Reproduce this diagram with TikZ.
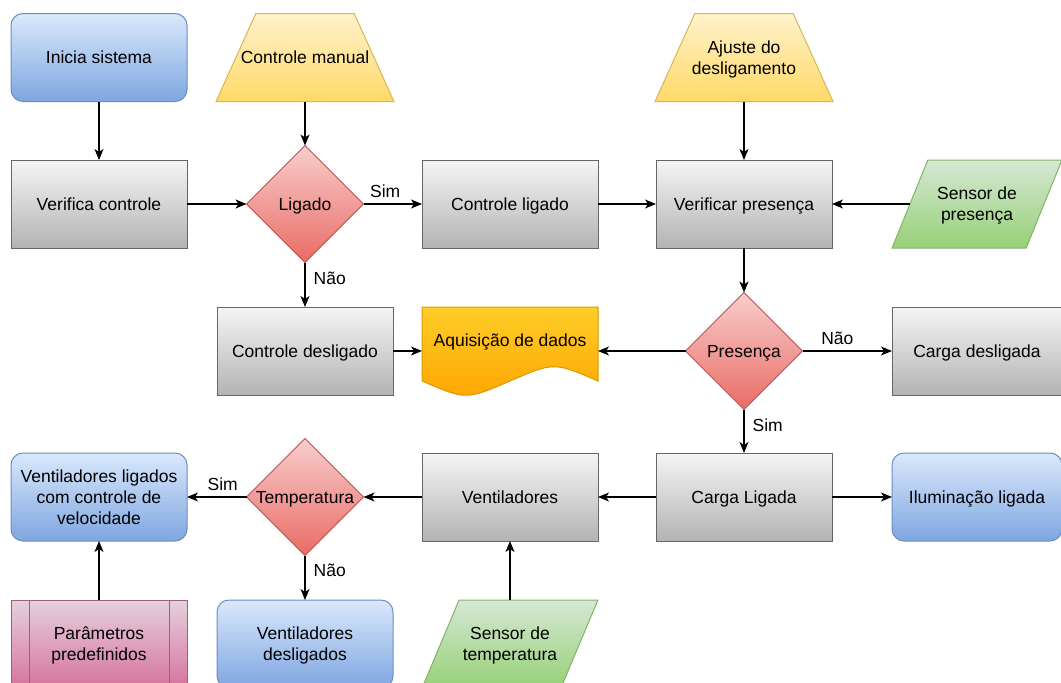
\documentclass[tikz,border=0pt]{standalone}
\usepackage{fontspec}
\setmainfont{Liberation Sans}
\usetikzlibrary{shapes.geometric,arrows.meta}
\definecolor{bluT}{HTML}{DAE8FC}\definecolor{bluB}{HTML}{7EA6E0}\definecolor{bluS}{HTML}{6C8EBF}
\definecolor{ylwT}{HTML}{FFF2CC}\definecolor{ylwB}{HTML}{FFD966}\definecolor{ylwS}{HTML}{D6B656}
\definecolor{gryT}{HTML}{F5F5F5}\definecolor{gryB}{HTML}{B3B3B3}\definecolor{gryS}{HTML}{666666}
\definecolor{redT}{HTML}{F8CECC}\definecolor{redB}{HTML}{EA6B66}\definecolor{redS}{HTML}{B85450}
\definecolor{grnT}{HTML}{D5E8D4}\definecolor{grnB}{HTML}{97D077}\definecolor{grnS}{HTML}{82B366}
\definecolor{orT}{HTML}{FFCD28}\definecolor{orB}{HTML}{FFA500}\definecolor{orS}{HTML}{D79B00}
\definecolor{pnkT}{HTML}{E6D0DE}\definecolor{pnkB}{HTML}{D5739D}\definecolor{pnkS}{HTML}{996185}
\begin{document}
\begin{tikzpicture}[x=1pt,y=-1pt,
  every node/.style={font=\fontsize{17.5}{21}\selectfont, text=black, text depth=0pt},
  base/.style={draw, line width=1pt, inner sep=0pt, outer sep=0pt,
    minimum width=176pt, minimum height=88pt, align=center},
  grbox/.style={base, draw=gryS, top color=gryT, bottom color=gryB},
  bluebox/.style={base, rounded corners=12pt, draw=bluS, top color=bluT, bottom color=bluB},
  pnkbox/.style={base, draw=pnkS, top color=pnkT, bottom color=pnkB},
  lbl/.style={label={[align=center, inner sep=0pt]center:#1}},
  trap/.style={base, inner sep=2pt, trapezium, trapezium left angle=68, trapezium right angle=68,
    trapezium stretches=true, minimum width=178pt, draw=ylwS, top color=ylwT, bottom color=ylwB},
  para/.style={base, inner sep=2pt, trapezium, trapezium left angle=70, trapezium right angle=110,
    trapezium stretches=true, draw=grnS, top color=grnT, bottom color=grnB},
  dec/.style={diamond, draw=redS, line width=1pt, top color=redT, bottom color=redB,
    minimum width=117pt, minimum height=117pt, inner sep=2pt, outer sep=0pt, aspect=1},
  arr/.style={line width=1.3pt, -{Stealth[length=11pt,width=9pt,inset=3pt]}},
  elab/.style={inner sep=0pt}
]
\useasboundingbox (0,0) rectangle (1061,683);

% row 1
\node[bluebox] (ini) at (99,57.5) {Inicia sistema};
\node[trap, lbl={Controle manual}] (cm) at (305,57.5) {};
\node[trap, lbl={Ajuste do\\desligamento}] (aj) at (744,57.5) {};

% row 2
\node[grbox] (vc) at (99,204) {Verifica controle};
\node[dec, lbl={Ligado}] (lig) at (305,204) {};
\node[grbox] (cl) at (510,204) {Controle ligado};
\node[grbox] (vp) at (744,204) {Verificar presença};
\node[para, minimum width=170pt, lbl={Sensor de\\presença}] (sp) at (977,204) {};

% row 3
\node[grbox] (cd) at (305,351) {Controle desligado};
\path[draw=orS, line width=1pt, top color=orT, bottom color=orB]
  (422,307) -- (598,307) -- (598,381) .. controls (554,362) .. (510,381)
  .. controls (466,400) .. (422,381) -- cycle;
\node[base, draw=none] (ad) at (510,351) {};
\node (adt) at (510,340) {Aquisição de dados};
\node[dec, lbl={Presença}] (pres) at (744,351) {};
\node[grbox, minimum width=170pt] (cdes) at (977,351) {Carga desligada};

% row 4
\node[bluebox] (vl) at (99,497) {Ventiladores ligados\\com controle de\\velocidade};
\node[dec, lbl={Temperatura}] (temp) at (305,497) {};
\node[grbox] (vent) at (510,497) {Ventiladores};
\node[grbox] (carl) at (744,497) {Carga Ligada};
\node[bluebox, minimum width=170pt] (il) at (977,497) {Iluminação ligada};

% row 5
\node[pnkbox] (pp) at (99,644) {Parâmetros\\predefinidos};
\draw[pnkS, line width=1pt] ([xshift=18pt]pp.north west) -- ([xshift=18pt]pp.south west);
\draw[pnkS, line width=1pt] ([xshift=-18pt]pp.north east) -- ([xshift=-18pt]pp.south east);
\node[bluebox] (vd) at (305,644) {Ventiladores\\desligados};
\node[para, minimum width=176pt, lbl={Sensor de\\temperatura}] (st) at (510,644) {};

% connectors
\draw[arr] (ini) -- (vc);
\draw[arr] (cm) -- (lig);
\draw[arr] (vc) -- (lig);
\draw[arr] (lig) -- node[elab, pos=0.37, above=6pt] {Sim} (cl);
\draw[arr] (lig) -- node[elab, pos=0.35, right=8pt] {Não} (cd);
\draw[arr] (cl) -- (vp);
\draw[arr] (aj) -- (vp);
\draw[arr] (sp) -- (vp);
\draw[arr] (vp) -- (pres);
\draw[arr] (cd) -- (ad);
\draw[arr] (pres) -- (ad);
\draw[arr] (pres) -- node[elab, pos=0.39, above=6pt] {Não} (cdes);
\draw[arr] (pres) -- node[elab, pos=0.35, right=8pt] {Sim} (carl);
\draw[arr] (carl) -- (vent);
\draw[arr] (carl) -- (il);
\draw[arr] (vent) -- (temp);
\draw[arr] (temp) -- node[elab, pos=0.4, above=6pt] {Sim} (vl);
\draw[arr] (temp) -- node[elab, pos=0.32, right=8pt] {Não} (vd);
\draw[arr] (st) -- (vent);
\draw[arr] (pp) -- (vl);
\end{tikzpicture}
\end{document}
